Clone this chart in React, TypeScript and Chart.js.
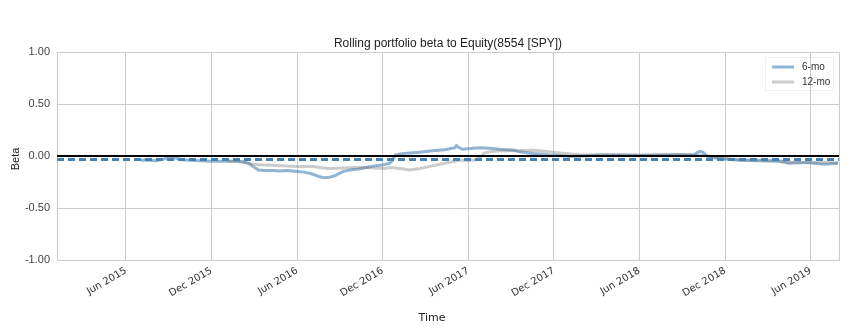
import React, { useEffect, useRef } from "react";
import { Chart, registerables } from "chart.js";

Chart.register(...registerables);

const TITLE = "Rolling portfolio beta to Equity(8554 [SPY])";
const Y_LABEL = "Beta";
const X_LABEL = "Time";

const X_MIN_DATE = "2015-01-06";
const X_MAX_DATE = "2019-07-31";
const X_TICK_DATES = [
  "2015-06-01", "2015-12-01", "2016-06-01", "2016-12-01", "2017-06-01",
  "2017-12-01", "2018-06-01", "2018-12-01", "2019-06-01",
];
const X_TICK_LABELS = [
  "Jun 2015", "Dec 2015", "Jun 2016", "Dec 2016", "Jun 2017",
  "Dec 2017", "Jun 2018", "Dec 2018", "Jun 2019",
];
const Y_TICKS = [-1, -0.5, 0, 0.5, 1];

const DATES_6MO = [
  "2015-07-02", "2015-07-21", "2015-08-05", "2015-08-20", "2015-09-03", "2015-09-15",
  "2015-09-28", "2015-10-15", "2015-11-06", "2015-12-01", "2015-12-20", "2016-01-09",
  "2016-01-25", "2016-02-06", "2016-02-20", "2016-03-01", "2016-03-10", "2016-03-23",
  "2016-04-10", "2016-04-24", "2016-05-10", "2016-06-02", "2016-06-15", "2016-06-27",
  "2016-07-10", "2016-07-19", "2016-07-29", "2016-08-09", "2016-08-20", "2016-09-07",
  "2016-09-22", "2016-10-10", "2016-10-27", "2016-11-15", "2016-12-03", "2016-12-16",
  "2016-12-22", "2016-12-28", "2017-01-07", "2017-01-28", "2017-02-19", "2017-03-16",
  "2017-04-11", "2017-04-22", "2017-05-03", "2017-05-06", "2017-05-10", "2017-05-19",
  "2017-06-01", "2017-06-25", "2017-07-16", "2017-08-07", "2017-09-08", "2017-09-19",
  "2017-10-16", "2017-11-01", "2017-11-22", "2017-12-13", "2018-01-03", "2018-02-01",
  "2018-03-07", "2018-04-15", "2018-06-01", "2018-07-15", "2018-08-25", "2018-09-26",
  "2018-10-02", "2018-10-08", "2018-10-15", "2018-10-22", "2018-10-28", "2018-11-19",
  "2019-01-01", "2019-02-13", "2019-03-25", "2019-04-16", "2019-05-07", "2019-05-28",
  "2019-06-29", "2019-07-15", "2019-07-29",
];
const BETA_6MO = [
  -0.04, -0.04, -0.045, -0.03, -0.015, -0.02,
  -0.035, -0.04, -0.045, -0.05, -0.05, -0.05,
  -0.05, -0.055, -0.07, -0.11, -0.135, -0.14,
  -0.14, -0.145, -0.14, -0.15, -0.155, -0.165,
  -0.185, -0.2, -0.21, -0.205, -0.19, -0.15,
  -0.135, -0.125, -0.11, -0.095, -0.085, -0.07,
  -0.04, 0.01, 0.02, 0.03, 0.035, 0.05,
  0.06, 0.07, 0.08, 0.1, 0.085, 0.065,
  0.07, 0.08, 0.075, 0.065, 0.055, 0.04,
  0.025, 0.02, 0.01, 0.005, -0.005, 0.0,
  0.01, 0.01, 0.005, 0.01, 0.015, 0.01,
  0.03, 0.045, 0.035, 0.005, -0.01, -0.025,
  -0.04, -0.045, -0.05, -0.07, -0.065, -0.065,
  -0.08, -0.075, -0.07,
];

const DATES_12MO = [
  "2016-01-05", "2016-01-25", "2016-02-10", "2016-02-21", "2016-03-10", "2016-04-10",
  "2016-05-10", "2016-06-02", "2016-07-05", "2016-07-19", "2016-08-09", "2016-09-07",
  "2016-10-01", "2016-10-27", "2016-12-03", "2016-12-16", "2017-01-07", "2017-01-28",
  "2017-02-19", "2017-03-16", "2017-04-11", "2017-05-13", "2017-06-14", "2017-06-25",
  "2017-07-05", "2017-07-16", "2017-08-07", "2017-09-08", "2017-10-16", "2017-11-01",
  "2017-12-13", "2018-02-01", "2018-03-07", "2018-06-01", "2018-09-26", "2018-10-28",
  "2018-11-19", "2019-01-01", "2019-03-25", "2019-04-16", "2019-05-28", "2019-07-29",
];
const BETA_12MO = [
  -0.05, -0.05, -0.06, -0.075, -0.085, -0.09,
  -0.095, -0.1, -0.1, -0.11, -0.12, -0.115,
  -0.11, -0.11, -0.12, -0.11, -0.12, -0.135,
  -0.12, -0.095, -0.07, -0.04, -0.04, -0.02,
  0.03, 0.04, 0.05, 0.05, 0.055, 0.05,
  0.03, 0.01, 0.01, 0.01, 0.01, 0.0,
  -0.02, -0.035, -0.045, -0.06, -0.06, -0.065,
];

const MEAN_BETA = -0.033;

const COLOR_6MO = "rgba(70,130,180,0.6)";
const COLOR_12MO = "rgba(128,128,128,0.4)";
const COLOR_MEAN = "rgb(70,130,180)";

function toMonths(d: string): number {
  const [y, m, day] = d.split("-").map(Number);
  return (y - 2015) * 12 + (m - 1) + (day - 1) / 30.5;
}

const overlayPlugin = {
  id: "overlay",
  beforeDatasetsDraw(chart: any) {
    const { ctx, chartArea } = chart;
    ctx.save();
    ctx.strokeStyle = "#cccccc";
    ctx.lineWidth = 1;
    ctx.strokeRect(
      Math.round(chartArea.left) + 0.5,
      Math.round(chartArea.top) + 0.5,
      Math.round(chartArea.right - chartArea.left),
      Math.round(chartArea.bottom - chartArea.top)
    );
    ctx.restore();
  },
  afterDraw(chart: any) {
    const { ctx, chartArea } = chart;
    ctx.save();
    ctx.fillStyle = "#222";
    ctx.font = '12px "Liberation Sans"';
    ctx.textAlign = "center";
    ctx.textBaseline = "middle";
    ctx.fillText(TITLE, (chartArea.left + chartArea.right) / 2, 44);

    ctx.font = '11px "Liberation Sans"';
    ctx.save();
    ctx.translate(16, 159);
    ctx.rotate(-Math.PI / 2);
    ctx.fillText(Y_LABEL, 0, 0);
    ctx.restore();

    ctx.font = '11px "DejaVu Sans"';
    ctx.fillText(X_LABEL, 432, 318);

    // legend
    ctx.strokeStyle = "rgba(0,0,0,0.06)";
    ctx.lineWidth = 1;
    ctx.strokeRect(765.5, 57.5, 68, 33);
    const items = [
      { label: "6-mo", color: COLOR_6MO, y: 67 },
      { label: "12-mo", color: COLOR_12MO, y: 82 },
    ];
    ctx.font = '10px "Liberation Sans"';
    ctx.textAlign = "left";
    for (const it of items) {
      ctx.strokeStyle = it.color;
      ctx.lineWidth = 3;
      ctx.beginPath();
      ctx.moveTo(772, it.y);
      ctx.lineTo(794, it.y);
      ctx.stroke();
      ctx.fillStyle = "#333";
      ctx.fillText(it.label, 802, it.y);
    }
    ctx.restore();
  },
};

export default function App() {
  const ref = useRef<HTMLCanvasElement>(null);

  useEffect(() => {
    document.body.style.margin = "0";
    const xMin = toMonths(X_MIN_DATE);
    const xMax = toMonths(X_MAX_DATE);
    const tickVals = X_TICK_DATES.map(toMonths);

    const chart = new Chart(ref.current as HTMLCanvasElement, {
      type: "line",
      data: {
        datasets: [
          {
            label: "mean",
            data: [
              { x: xMin, y: MEAN_BETA },
              { x: xMax, y: MEAN_BETA },
            ],
            borderColor: COLOR_MEAN,
            borderWidth: 3,
            borderDash: [7, 4],
            pointRadius: 0,
            order: 0,
          },
          {
            label: "zero",
            data: [
              { x: xMin, y: 0 },
              { x: xMax, y: 0 },
            ],
            borderColor: "#000",
            borderWidth: 2,
            pointRadius: 0,
            order: 1,
          },
          {
            label: "12-mo",
            data: DATES_12MO.map((d, i) => ({ x: toMonths(d), y: BETA_12MO[i] })),
            borderColor: COLOR_12MO,
            borderWidth: 3,
            pointRadius: 0,
            order: 2,
          },
          {
            label: "6-mo",
            data: DATES_6MO.map((d, i) => ({ x: toMonths(d), y: BETA_6MO[i] })),
            borderColor: COLOR_6MO,
            borderWidth: 3,
            pointRadius: 0,
            order: 3,
          },
        ],
      },
      options: {
        animation: false,
        responsive: false,
        layout: { padding: { top: 52, right: 14, left: 0, bottom: 0 } },
        plugins: {
          legend: { display: false },
          title: { display: false },
          tooltip: { enabled: false },
        },
        scales: {
          x: {
            type: "linear",
            min: xMin,
            max: xMax,
            grid: { color: "#cccccc", drawTicks: false },
            border: { color: "#cccccc" },
            ticks: {
              autoSkip: false,
              minRotation: 30,
              maxRotation: 30,
              padding: 5,
              color: "#333",
              font: { family: "DejaVu Sans", size: 10 },
              callback: (v: any) => {
                const idx = tickVals.findIndex((t) => Math.abs(t - v) < 1e-6);
                return idx >= 0 ? X_TICK_LABELS[idx] : "";
              },
            },
            afterBuildTicks: (scale: any) => {
              scale.ticks = tickVals.map((v) => ({ value: v }));
            },
            afterFit: (scale: any) => {
              scale.height = 75;
            },
          },
          y: {
            min: -1,
            max: 1,
            grid: { color: "#cccccc", drawTicks: false },
            border: { color: "#cccccc" },
            ticks: {
              padding: 7,
              color: "#444",
              font: { family: "Liberation Sans", size: 11 },
              callback: (v: any) => Number(v).toFixed(2),
            },
            afterBuildTicks: (scale: any) => {
              scale.ticks = Y_TICKS.map((v) => ({ value: v }));
            },
            afterFit: (scale: any) => {
              scale.width = 57;
            },
          },
        },
      },
      plugins: [overlayPlugin],
    });
    return () => chart.destroy();
  }, []);

  return (
    <canvas
      ref={ref}
      width={853}
      height={335}
      style={{ display: "block", width: "853px", height: "335px" }}
    />
  );
}
